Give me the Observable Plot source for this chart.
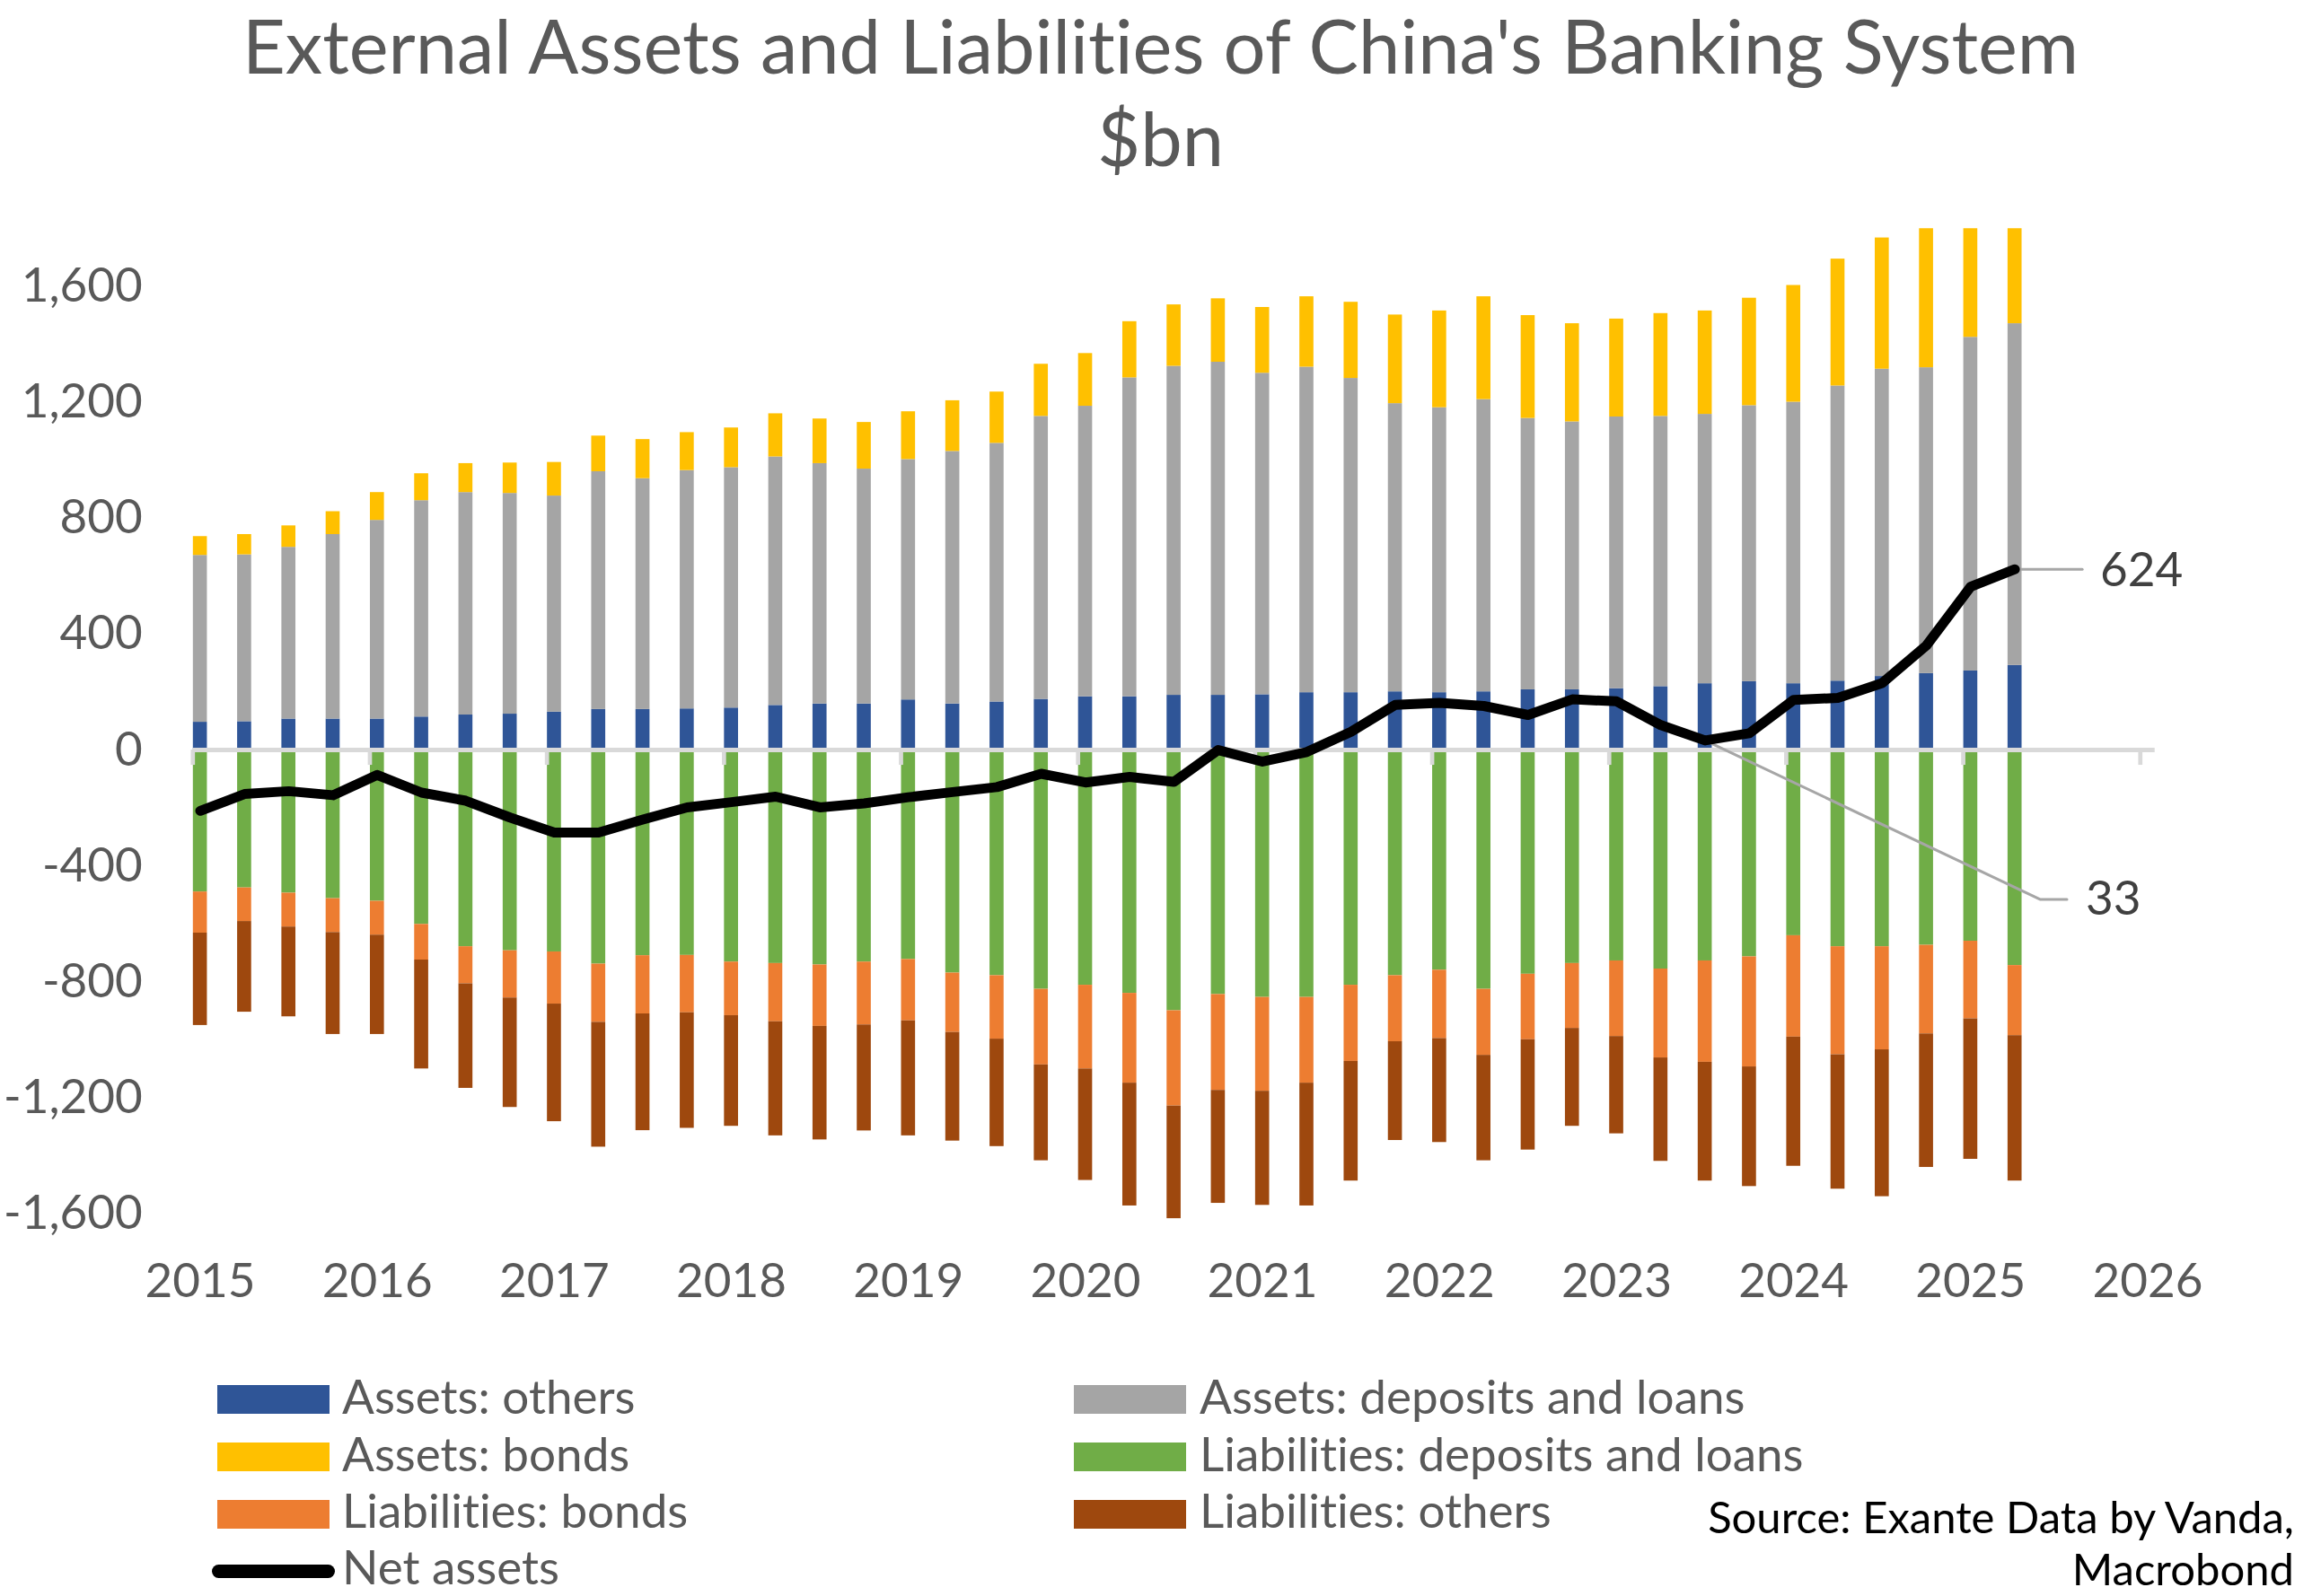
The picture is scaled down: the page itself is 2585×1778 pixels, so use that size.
<!DOCTYPE html>
<html>
<head>
<meta charset="utf-8">
<script src="https://cdn.jsdelivr.net/npm/d3@7"></script>
<script src="https://cdn.jsdelivr.net/npm/@observablehq/plot@0.6"></script>
<style>
html, body { margin: 0; padding: 0; background: #ffffff; }
#page { position: relative; width: 2585px; height: 1778px; overflow: hidden; font-family: Lato, "Open Sans", sans-serif; color: #595959; background: #ffffff; font-variant-ligatures: none; font-feature-settings: "liga" 0, "clig" 0, "dlig" 0; }
#page svg, #page svg text { font-variant-ligatures: none; font-feature-settings: "liga" 0, "clig" 0, "dlig" 0; }
.title { position: absolute; left: 0; width: 2585px; text-align: center; font-size: 83px; line-height: 100px; color: #595959; white-space: nowrap; }
#chart { position: absolute; left: 0; top: 230px; }
.sw { position: absolute; height: 32px; }
.ln { position: absolute; height: 15px; border-radius: 8px; background: #000; }
.lt { position: absolute; font-size: 53px; line-height: 64px; white-space: nowrap; color: #595959; }
.src { position: absolute; right: 30px; font-size: 49px; line-height: 59px; color: #000; white-space: nowrap; text-align: right; }
</style>
</head>
<body>
<div id="page">
  <div class="title" style="top:0px;">External Assets and Liabilities of China's Banking System</div>
  <div class="title" style="top:103px;">$bn</div>
  <div id="chart"></div>
  <div id="legend"></div>
  <div class="src" style="top:1659.5px;">Source: Exante Data by Vanda,</div>
  <div class="src" style="top:1717.5px;">Macrobond</div>
</div>
<script>
// ---------------- DATA ----------------
const quarters = [
  "2015Q1","2015Q2","2015Q3","2015Q4",
  "2016Q1","2016Q2","2016Q3","2016Q4",
  "2017Q1","2017Q2","2017Q3","2017Q4",
  "2018Q1","2018Q2","2018Q3","2018Q4",
  "2019Q1","2019Q2","2019Q3","2019Q4",
  "2020Q1","2020Q2","2020Q3","2020Q4",
  "2021Q1","2021Q2","2021Q3","2021Q4",
  "2022Q1","2022Q2","2022Q3","2022Q4",
  "2023Q1","2023Q2","2023Q3","2023Q4",
  "2024Q1","2024Q2","2024Q3","2024Q4",
  "2025Q1","2025Q2"
];
const assetsOthers = [96,98,107,107,107,114,121,124,131,140,140,142,145,154,159,159,173,159,166,175,184,184,189,189,191,198,198,201,198,201,208,208,212,219,229,236,229,238,254,264,273,292];
const assetsDeposits = [576,576,593,637,686,747,768,762,746,821,797,823,830,858,830,811,830,872,893,977,1003,1101,1136,1150,1110,1124,1085,995,984,1009,937,925,938,933,930,953,972,1019,1061,1056,1152,1180];
const assetsBonds = [65,70,74,79,96,93,100,105,116,123,135,131,137,149,154,161,165,175,177,180,182,194,212,219,227,243,263,306,334,355,355,339,338,355,357,371,403,438,453,480,552,640];
const liabDeposits = [-490,-476,-494,-513,-522,-602,-679,-693,-697,-739,-710,-709,-732,-737,-742,-732,-723,-770,-779,-826,-812,-840,-900,-844,-854,-854,-812,-779,-760,-826,-774,-737,-728,-756,-728,-714,-641,-679,-679,-674,-660,-744];
const liabBonds = [-142,-116,-117,-117,-117,-123,-128,-163,-180,-201,-201,-198,-185,-201,-212,-217,-212,-205,-219,-261,-289,-310,-329,-331,-324,-296,-263,-228,-236,-228,-226,-224,-261,-307,-350,-380,-350,-373,-356,-306,-268,-242];
const liabOthers = [-319,-313,-310,-352,-343,-376,-361,-378,-406,-431,-403,-399,-382,-394,-392,-366,-397,-375,-371,-331,-385,-424,-389,-390,-394,-424,-413,-341,-359,-364,-381,-338,-336,-357,-410,-413,-446,-464,-507,-461,-485,-502];
const netAssets = [-210,-152,-142,-156,-86,-147,-175,-233,-285,-285,-240,-198,-180,-161,-198,-184,-163,-145,-128,-82,-112,-93,-110,0,-40,-7,63,156,163,152,121,175,168,86,33,58,173,180,231,361,564,624];

const seriesNames = ["Assets: others","Assets: deposits and loans","Assets: bonds","Liabilities: deposits and loans","Liabilities: bonds","Liabilities: others"];
const seriesColors = ["#2F5597","#A5A5A5","#FFC000","#70AD47","#ED7D31","#9E480E"];
const seriesValues = [assetsOthers, assetsDeposits, assetsBonds, liabDeposits, liabBonds, liabOthers];
const netName = "Net assets";

const yTicks = [-1600,-1200,-800,-400,0,400,800,1200,1600];
const yearTicks = [2015,2016,2017,2018,2019,2020,2021,2022,2023,2024,2025,2026];
const calloutIndices = [41, 34];   // labelled points of the net line

// ---------------- LAYOUT ----------------
const W = 2585, H = 1230;
const mL = 214.3, mR = 185.3, mT = 24.25, mB = 76.4;
const xDomain = [2015, 2026 + 1/12];
const yDomain = [-1700, 1800];
const pxPerYear = (W - mL - mR) / (xDomain[1] - xDomain[0]);
const pxPerUnit = (H - mT - mB) / (yDomain[1] - yDomain[0]);

// quarter label -> start of its month band (decimal year)
const qStart = q => +q.slice(0, 4) + (+q.slice(5) - 1) * 3 / 12;
const month = 1 / 12;

const rows = [];
seriesValues.forEach((vals, s) => {
  vals.forEach((v, i) => rows.push({q: quarters[i], series: seriesNames[s], value: v}));
});
const netRows = quarters.map((q, i) => ({q, value: netAssets[i]}));
const fmt = d => (d < 0 ? "-" : "") + d3.format(",")(Math.abs(d));

const c624 = netRows[calloutIndices[0]];
const c33 = netRows[calloutIndices[1]];
const xc = d => qStart(d.q) + month / 2;

const plot = Plot.plot({
  width: W,
  height: H,
  marginLeft: mL,
  marginRight: mR,
  marginTop: mT,
  marginBottom: mB,
  style: {fontFamily: "Lato, 'Open Sans', sans-serif", fontSize: "53px", color: "#595959", background: "#ffffff"},
  x: {domain: xDomain, ticks: yearTicks.map(y => y + month / 2), tickFormat: d => String(Math.floor(d)), tickSize: 0, tickPadding: 23, label: null},
  y: {domain: yDomain, clamp: true, ticks: yTicks, tickFormat: fmt, tickSize: 0, tickPadding: 56, label: null},
  color: {domain: seriesNames, range: seriesColors},
  marks: [
    Plot.rectY(rows, {
      x1: d => qStart(d.q),
      x2: d => qStart(d.q) + month,
      y: "value",
      fill: "series",
      insetLeft: 0.5,
      insetRight: 0.3
    }),
    Plot.ruleY([0], {stroke: "#D9D9D9", strokeWidth: 5}),
    Plot.ruleX(yearTicks, {x: d => d, y1: 0, y2: -17 / pxPerUnit, stroke: "#D9D9D9", strokeWidth: 4.7}),
    // callout leader lines
    Plot.line([
      {x: xc(c624), y: c624.value},
      {x: xc(c624) + 75 / pxPerYear, y: c624.value}
    ], {x: "x", y: "y", stroke: "#A6A6A6", strokeWidth: 3}),
    Plot.line([
      {x: xc(c33), y: c33.value},
      {x: xc(c33) + 373 / pxPerYear, y: c33.value - 177 / pxPerUnit},
      {x: xc(c33) + 403 / pxPerYear, y: c33.value - 177 / pxPerUnit}
    ], {x: "x", y: "y", stroke: "#A6A6A6", strokeWidth: 3}),
    Plot.line(netRows, {x: xc, y: "value", stroke: "#000000", strokeWidth: 11, strokeLinejoin: "round", strokeLinecap: "round"}),
    Plot.text([c624], {x: xc, y: "value", text: d => String(d.value), dx: 95, dy: 2, textAnchor: "start", fill: "#404040", fontSize: 53}),
    Plot.text([c33], {x: xc, y: "value", text: d => String(d.value), dx: 424, dy: 177, textAnchor: "start", fill: "#404040", fontSize: 53})
  ]
});
document.getElementById("chart").appendChild(plot);

// ---------------- LEGEND ----------------
const legend = document.getElementById("legend");
const legendItems = [
  {name: seriesNames[0], color: seriesColors[0], col: 0, row: 0},
  {name: seriesNames[1], color: seriesColors[1], col: 1, row: 0},
  {name: seriesNames[2], color: seriesColors[2], col: 0, row: 1},
  {name: seriesNames[3], color: seriesColors[3], col: 1, row: 1},
  {name: seriesNames[4], color: seriesColors[4], col: 0, row: 2},
  {name: seriesNames[5], color: seriesColors[5], col: 1, row: 2},
  {name: netName, color: "#000000", col: 0, row: 3, line: true}
];
const colSwatchX = [242, 1196], colTextX = [381, 1336];
const rowSwatchTop = [1543, 1607, 1671, 1743];
const rowBaseline = [1575, 1639, 1702, 1765];
legendItems.forEach(it => {
  const sw = document.createElement("div");
  sw.className = it.line ? "ln" : "sw";
  sw.style.left = (it.line ? colSwatchX[it.col] - 6 : colSwatchX[it.col]) + "px";
  sw.style.width = (it.line ? 137 : 125) + "px";
  sw.style.top = rowSwatchTop[it.row] + "px";
  sw.style.background = it.color;
  legend.appendChild(sw);
  const t = document.createElement("div");
  t.className = "lt";
  t.textContent = it.name;
  t.style.left = colTextX[it.col] + "px";
  t.style.top = (rowBaseline[it.row] - 52.5) + "px";
  legend.appendChild(t);
});
</script>
</body>
</html>
